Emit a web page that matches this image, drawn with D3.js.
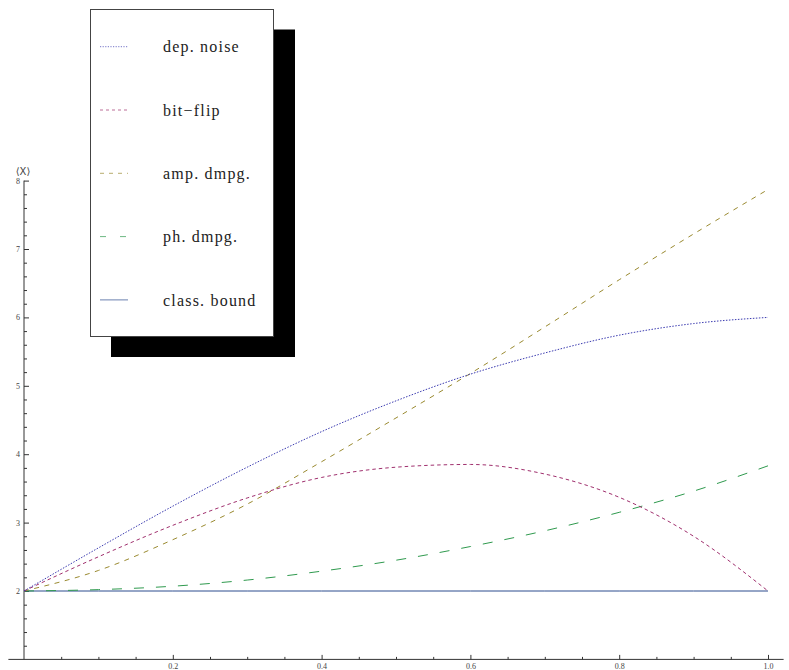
<!DOCTYPE html>
<html>
<head>
<meta charset="utf-8">
<script src="https://cdn.jsdelivr.net/npm/d3@7"></script>
<style>
  html, body { margin: 0; padding: 0; background: #fff; }
  svg { display: block; }
</style>
</head>
<body>
<div id="chart"></div>
<script>
// sample points along x
const xs = [0, 0.1, 0.2, 0.3, 0.4, 0.5, 0.6, 0.7, 0.8, 0.9, 1.0];

const depNoise = [2.00, 2.63, 3.24, 3.81, 4.33, 4.78, 5.17, 5.48, 5.74, 5.91, 6.00];
const bitFlip  = [2.00, 2.50, 2.96, 3.36, 3.66, 3.81, 3.85, 3.71, 3.37, 2.80, 2.00];
const ampDmpg  = [2.00, 2.30, 2.75, 3.27, 3.89, 4.53, 5.18, 5.86, 6.55, 7.22, 7.87];
const phDmpg   = [2.00, 2.02, 2.07, 2.16, 2.29, 2.45, 2.65, 2.88, 3.15, 3.46, 3.83];
const classBound = [2, 2, 2, 2, 2, 2, 2, 2, 2, 2, 2];

const seriesNames = ["dep. noise", "bit\u2212flip", "amp. dmpg.", "ph. dmpg.", "class. bound"];
const seriesValues = [depNoise, bitFlip, ampDmpg, phDmpg, classBound];

const yMajorTicks = [2, 3, 4, 5, 6, 7, 8];
const xMajorTicks = [0.2, 0.4, 0.6, 0.8, 1.0];
const yLabel = "\u27E8X\u27E9";

// mathematica-ish default palette + dash styles
const COLORS = ["#3a3ab0", "#a0306e", "#9a8a30", "#2f9a4e", "#2c4c8e"];
const DASHES = ["1.5,1.5", "3.5,3", "5,5.5", "10,12", null];
const LEGEND_DASHES = ["1.2,1.4", "3,3", "4,5", "6,14", null];

const SERIF = "'Liberation Serif', 'Times New Roman', Times, 'DejaVu Serif', serif";

const width = 789, height = 670;

const svg = d3.select("#chart").append("svg")
  .attr("width", width)
  .attr("height", height);

const x = d3.scaleLinear().domain([0, 1]).range([24, 768]);
const y = d3.scaleLinear().domain([1, 8]).range([659.4, 180.6]);

// ---- axes ----
const axisColor = "#333";

// x axis line (a bit past the plot range, like mathematica does)
svg.append("line")
  .attr("x1", x(-0.021)).attr("x2", x(1.021))
  .attr("y1", y(1)).attr("y2", y(1))
  .attr("stroke", axisColor).attr("stroke-width", 1);

// y axis line
svg.append("line")
  .attr("x1", x(0)).attr("x2", x(0))
  .attr("y1", y(8)).attr("y2", y(1))
  .attr("stroke", axisColor).attr("stroke-width", 1);

// x minor ticks
const xMinor = d3.range(1, 20).map(i => i * 0.05).filter(v => Math.abs(v * 5 - Math.round(v * 5)) > 1e-6);
svg.append("g")
  .attr("transform", `translate(0, ${y(1)})`)
  .call(d3.axisBottom(x).tickValues(xMinor).tickSize(-2.5).tickSizeOuter(0).tickFormat(""))
  .call(g => g.select(".domain").remove())
  .selectAll("line").attr("stroke", axisColor);

// x major ticks + labels
svg.append("g")
  .attr("transform", `translate(0, ${y(1)})`)
  .call(d3.axisBottom(x).tickValues(xMajorTicks).tickSize(-4.5).tickSizeOuter(0).tickPadding(4)
    .tickFormat(d3.format(".1f")))
  .call(g => g.select(".domain").remove())
  .call(g => g.selectAll("line").attr("stroke", axisColor))
  .call(g => g.selectAll("text")
    .style("font-family", SERIF)
    .style("font-size", "8px")
    .attr("fill", "#444"));

// y minor ticks
const yMinor = d3.range(6, 40).map(i => i * 0.2).filter(v => Math.abs(v - Math.round(v)) > 1e-6);
svg.append("g")
  .attr("transform", `translate(${x(0)}, 0)`)
  .call(d3.axisLeft(y).tickValues(yMinor).tickSize(-3).tickSizeOuter(0).tickFormat(""))
  .call(g => g.select(".domain").remove())
  .selectAll("line").attr("stroke", axisColor);

// y major ticks + labels
svg.append("g")
  .attr("transform", `translate(${x(0)}, 0)`)
  .call(d3.axisLeft(y).tickValues(yMajorTicks).tickSize(-5).tickSizeOuter(0).tickPadding(4)
    .tickFormat(d3.format("d")))
  .call(g => g.select(".domain").remove())
  .call(g => g.selectAll("line").attr("stroke", axisColor))
  .call(g => g.selectAll("text")
    .style("font-family", SERIF)
    .style("font-size", "8px")
    .attr("fill", "#444"));

// y axis label
svg.append("text")
  .attr("x", x(0) - 1)
  .attr("y", y(8) - 6)
  .attr("text-anchor", "middle")
  .style("font-family", "'DejaVu Sans', sans-serif")
  .style("font-size", "10px")
  .attr("fill", "#444")
  .text(yLabel);

// ---- curves ----
const line = d3.line()
  .x((d, i) => x(xs[i]))
  .y(d => y(d))
  .curve(d3.curveMonotoneX);

// class bound first, the rest on top
[4, 3, 2, 1, 0].forEach(i => {
  svg.append("path")
    .datum(seriesValues[i])
    .attr("d", line)
    .attr("fill", "none")
    .attr("stroke", COLORS[i])
    .attr("stroke-width", 1)
    .attr("stroke-dasharray", DASHES[i]);
});

// ---- legend ----
const legend = svg.append("g");

// drop shadow
legend.append("rect")
  .attr("x", 111).attr("y", 29.5)
  .attr("width", 184).attr("height", 327.5)
  .attr("fill", "#000");

legend.append("rect")
  .attr("x", 90.5).attr("y", 9.5)
  .attr("width", 183).attr("height", 327)
  .attr("fill", "#fff")
  .attr("stroke", "#444")
  .attr("stroke-width", 1);

seriesNames.forEach((name, i) => {
  const cy = 46.7 + i * 63.3;
  legend.append("line")
    .attr("x1", 100).attr("x2", 128)
    .attr("y1", cy).attr("y2", cy)
    .attr("stroke", COLORS[i])
    .attr("stroke-opacity", 0.7)
    .attr("stroke-width", 1)
    .attr("stroke-dasharray", LEGEND_DASHES[i]);
  legend.append("text")
    .attr("x", 163)
    .attr("y", cy)
    .attr("dy", "0.35em")
    .style("font-family", SERIF)
    .style("font-size", "16px")
    .style("letter-spacing", "1.2px")
    .attr("fill", "#222")
    .text(name);
});
</script>
</body>
</html>
